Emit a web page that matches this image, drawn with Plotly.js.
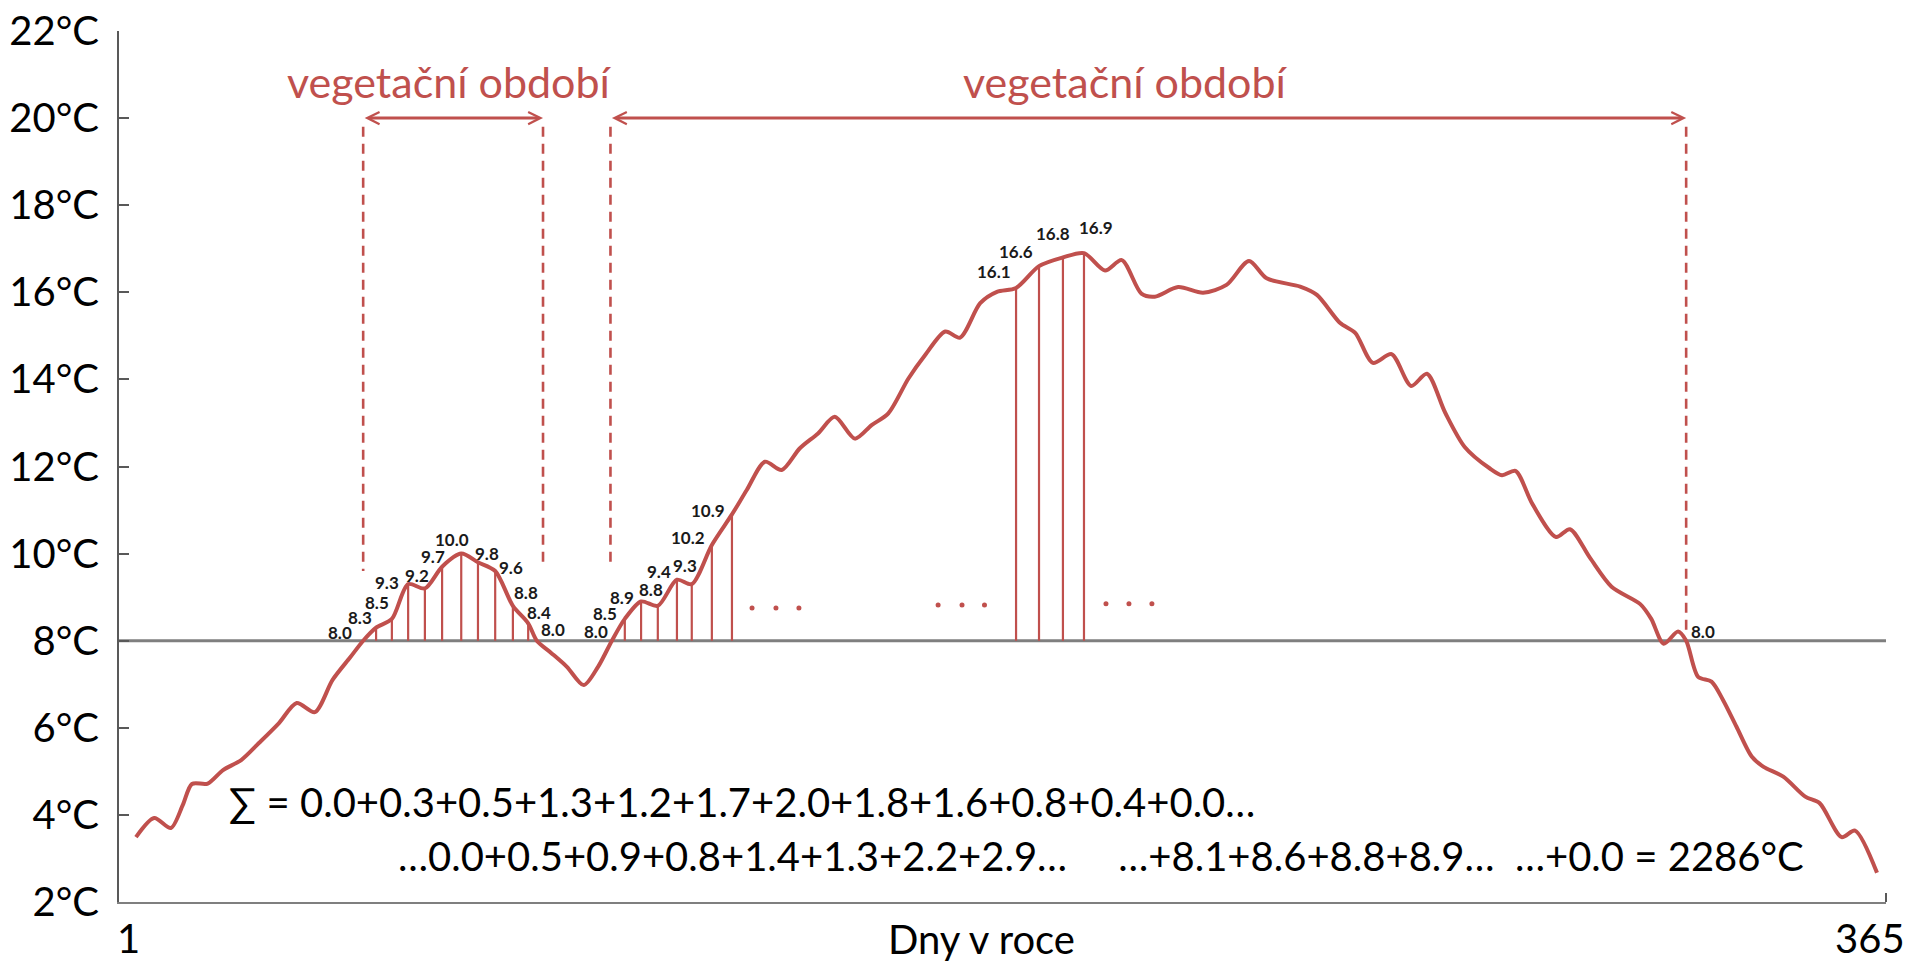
<!DOCTYPE html>
<html>
<head>
<meta charset="utf-8">
<script src="https://cdn.plot.ly/plotly-3.0.1.min.js"></script>
<style>html,body{margin:0;padding:0;background:#fff;}#chart{width:1911px;height:962px;}</style>
</head>
<body>
<div id="chart"></div>
<script>
// ---- data ----
const BASE_TEMP = 8;
// smooth curve points (day of year, daily mean temperature in °C), not including the marked days
const curveDays = [1, 4.8, 8.3, 10.8, 12.7, 16, 19.2, 23, 26.7, 30.9, 34.6, 38.4, 42.1, 45.8,
  87.8, 91.1, 94.6, 97.6,
  128.7, 132.5, 136, 139.8, 143.6, 147.1, 151.3, 154.8, 158.3, 162.5, 166, 170.2, 173.3, 177.5, 181,
  203.6, 207.1, 211.2, 214, 218.9, 224.1, 229, 233.7, 237.4, 244.4, 247.9, 252.7, 255.9, 259.6, 263.5,
  267.6, 270.9, 274.7, 278.8, 284, 286.6, 289.4, 293, 297.9, 300.8, 305, 309.5, 315.5, 317.8, 320.4, 323.4,
  327.6, 330.4, 332.8, 335.6, 338.8, 341.2, 345.4, 350, 353, 357.6, 360.4, 365];
const curveTemps = [3.49, 3.93, 3.70, 4.23, 4.71, 4.72, 5.03, 5.26, 5.65, 6.11, 6.57, 6.36, 7.10, 7.62,
  7.72, 7.40, 6.98, 7.40,
  11.46, 12.11, 11.92, 12.42, 12.76, 13.14, 12.64, 12.95, 13.22, 14.02, 14.56, 15.10, 14.96, 15.75, 16.01,
  16.50, 16.74, 15.97, 15.90, 16.12, 15.99, 16.17, 16.72, 16.32, 16.13, 15.94, 15.30, 15.07, 14.38, 14.58,
  13.85, 14.13, 13.24, 12.45, 11.96, 11.80, 11.90, 11.13, 10.38, 10.56, 9.90, 9.24, 8.84, 8.50, 7.93, 8.21,
  7.17, 7.06, 6.64, 6.03, 5.34, 5.11, 4.88, 4.42, 4.27, 3.49, 3.64, 2.67];

// marked (labelled) days
const spring1Days  = [48.5, 51.2, 54.5, 57.9, 61.4, 65.0, 69.0, 72.5, 76.1, 79.8, 83.0, 84.8];
const spring1Temps = [8.0, 8.3, 8.5, 9.3, 9.2, 9.7, 10.0, 9.8, 9.6, 8.8, 8.4, 8.0];
const spring2Days  = [100.5, 103.2, 106.6, 110.1, 114.1, 117.2, 121.4, 125.6];
const spring2Temps = [8.0, 8.5, 8.9, 8.8, 9.4, 9.3, 10.2, 10.9];
const summerDays   = [185.0, 189.8, 194.8, 199.2];
const summerTemps  = [16.1, 16.6, 16.8, 16.9];
const autumnDays   = [325.1];
const autumnTemps  = [8.0];

// ellipsis dots between the marked groups
const ellipsisDays  = [129.8, 134.8, 139.6, 168.7, 173.7, 178.4, 203.8, 208.6, 213.4];
const ellipsisTemps = [8.75, 8.75, 8.75, 8.82, 8.82, 8.82, 8.85, 8.85, 8.85];

// vegetation periods (start day, end day) and texts
const periodStarts = [48.5, 100.2];
const periodEnds   = [86.1, 325.1];
const periodLabel  = 'vegetační období';
const periodLabelDays = [66.5, 207.9];

const xTickVals = [1, 365];
const xTickText = ['1', '365'];
const xTitle = 'Dny v roce';
const sumLine1 = '∑ = 0.0+0.3+0.5+1.3+1.2+1.7+2.0+1.8+1.6+0.8+0.4+0.0…';
const sumLine2 = '…0.0+0.5+0.9+0.8+1.4+1.3+2.2+2.9…&nbsp;&nbsp;&nbsp;&nbsp;&nbsp;…+8.1+8.6+8.8+8.9…&nbsp;&nbsp;…+0.0 = 2286°C';

// ---- styles ----
const RED = '#C0504D';
const FONT = 'Lato, "Open Sans", sans-serif';
// label offsets in pixels [right, down] from the top of each marked line
const labelShift1 = [[-23,-8],[-16,-10],[-15,-16],[-21,-2],[-8,-13],[-9,-10],[-9,-14],[9,-9],[16,-4],[13,-13],[11,-11],[16,-11]];
const labelShift2 = [[-16,-9],[-20,-5],[-19,-4],[-7,-16],[-18,-8],[-7,-19],[-24,-7],[-24,-4]];
const labelShift3 = [[-22,-16],[-23,-15],[-10,-24],[12,-26]];
const labelShift4 = [[17,-9]];
const dashedBottoms = [[9.6, 9.65], [9.65, 8.1]];
const ARROW_LEVEL = 20;

// ---- build traces ----
const markDays  = [].concat(spring1Days, spring2Days, summerDays, autumnDays);
const markTemps = [].concat(spring1Temps, spring2Temps, summerTemps, autumnTemps);
const pts = curveDays.map((d, i) => [d, curveTemps[i]]).concat(markDays.map((d, i) => [d, markTemps[i]]));
pts.sort((a, b) => a[0] - b[0]);

const vx = [], vy = [];
markDays.forEach((d, i) => {
  if (markTemps[i] > BASE_TEMP) { vx.push(d, d, null); vy.push(BASE_TEMP, markTemps[i], null); }
});

const dx = [], dy = [];
periodStarts.forEach((s, i) => {
  dx.push(s, s, null, periodEnds[i], periodEnds[i], null);
  dy.push(ARROW_LEVEL - 0.2, dashedBottoms[i][0], null, ARROW_LEVEL - 0.2, dashedBottoms[i][1], null);
});

const traces = [
  {x: vx, y: vy, mode: 'lines', line: {color: RED, width: 2.2}, hoverinfo: 'skip'},
  {x: dx, y: dy, mode: 'lines', line: {color: RED, width: 2.6, dash: '10px,7px'}, hoverinfo: 'skip'},
  {x: pts.map(p => p[0]), y: pts.map(p => p[1]), mode: 'lines',
   line: {color: RED, width: 4, shape: 'spline', smoothing: 0.8}, hoverinfo: 'skip'},
  {x: ellipsisDays, y: ellipsisTemps, mode: 'markers', marker: {color: RED, size: 5}, hoverinfo: 'skip'}
];

const annotations = [];
function addLabels(days, temps, shifts) {
  days.forEach((d, i) => {
    annotations.push({x: d, y: temps[i], xref: 'x', yref: 'y', text: '<b>' + temps[i].toFixed(1) + '</b>',
      showarrow: false, xanchor: 'center', yanchor: 'middle', xshift: shifts[i][0], yshift: -shifts[i][1],
      font: {family: FONT, size: 17, color: '#1a1a1a'}});
  });
}
addLabels(spring1Days, spring1Temps, labelShift1);
addLabels(spring2Days, spring2Temps, labelShift2);
addLabels(summerDays, summerTemps, labelShift3);
addLabels(autumnDays, autumnTemps, labelShift4);

periodStarts.forEach((s, i) => {
  annotations.push({x: periodEnds[i], y: ARROW_LEVEL, ax: s, ay: ARROW_LEVEL, xref: 'x', yref: 'y', axref: 'x', ayref: 'y',
    text: '', showarrow: true, arrowside: 'end+start', arrowhead: 5, startarrowhead: 5,
    arrowsize: 0.8, startarrowsize: 0.8, arrowwidth: 3, arrowcolor: RED});
  annotations.push({x: periodLabelDays[i], y: 20.85, xref: 'x', yref: 'y', text: periodLabel, showarrow: false,
    xanchor: 'center', yanchor: 'middle', font: {family: FONT, size: 43, color: RED}});
});
annotations.push({x: 0.0611, xref: 'paper', y: 4.3, yref: 'y', text: sumLine1, showarrow: false,
  xanchor: 'left', yanchor: 'middle', font: {family: FONT, size: 40, color: '#000'}});
annotations.push({x: 0.1568, xref: 'paper', y: 3.05, yref: 'y', text: sumLine2, showarrow: false,
  xanchor: 'left', yanchor: 'middle', font: {family: FONT, size: 40, color: '#000'}});
annotations.push({x: 0.488, xref: 'paper', y: -0.042, yref: 'paper', text: xTitle, showarrow: false,
  xanchor: 'center', yanchor: 'middle', font: {family: FONT, size: 40, color: '#000'}});
// day labels at both ends of the x axis
xTickVals.forEach((v, i) => {
  annotations.push({x: v, xref: 'x', y: -0.041, yref: 'paper', text: xTickText[i], showarrow: false,
    xanchor: 'center', yanchor: 'middle', xshift: -7, font: {family: FONT, size: 40, color: '#000'}});
});

const layout = {
  width: 1911, height: 962,
  margin: {l: 119, r: 25, t: 31, b: 60, pad: 0},
  paper_bgcolor: '#fff', plot_bgcolor: '#fff',
  showlegend: false, hovermode: false,
  font: {family: FONT, color: '#000'},
  xaxis: {range: [-2.55, 366.88], showgrid: false, zeroline: false, showline: true,
    linecolor: '#7f7f7f', linewidth: 2, showticklabels: false, ticks: '', fixedrange: true},
  yaxis: {range: [2, 22], tick0: 2, dtick: 2, ticksuffix: '°C', showgrid: false, zeroline: false,
    showline: true, linecolor: '#595959', linewidth: 2, ticks: 'inside', ticklen: 10, tickwidth: 2,
    tickcolor: '#595959', tickfont: {family: FONT, size: 40, color: '#000'}, ticklabelstandoff: 10, fixedrange: true},
  shapes: [
    {type: 'line', xref: 'paper', x0: 0, x1: 1, yref: 'y', y0: BASE_TEMP, y1: BASE_TEMP,
     line: {color: '#7f7f7f', width: 3}, layer: 'below'},
    {type: 'line', xref: 'paper', x0: 1, x1: 1, yref: 'paper', ysizemode: 'pixel', yanchor: 0, y0: 0, y1: 9,
     line: {color: '#595959', width: 2}}
  ],
  annotations: annotations
};

Plotly.newPlot('chart', traces, layout, {displayModeBar: false, staticPlot: true});
</script>
</body>
</html>
